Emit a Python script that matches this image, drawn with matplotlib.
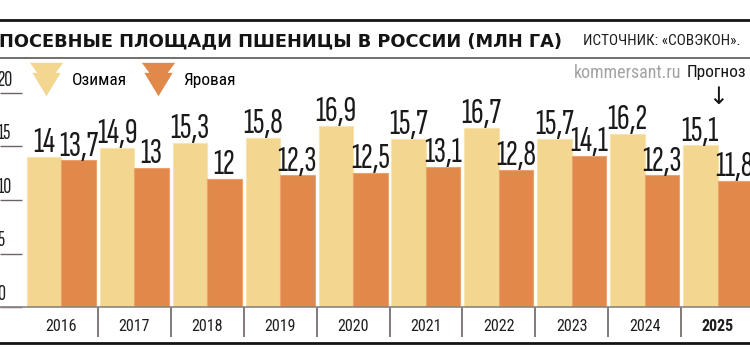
import matplotlib
matplotlib.use("Agg")
import matplotlib.pyplot as plt
import numpy as np
from matplotlib.lines import Line2D
from matplotlib.path import Path


# ==========================================================
#                      DONNEES
# ==========================================================
years = ["2016", "2017", "2018", "2019", "2020", "2021", "2022", "2023", "2024", "2025"]
ozimaya = [14, 14.9, 15.3, 15.8, 16.9, 15.7, 16.7, 15.7, 16.2, 15.1]
yarovaya = [13.7, 13, 12, 12.3, 12.5, 13.1, 12.8, 14.1, 12.3, 11.8]
y_ticks = [0, 5, 10, 15, 20]
series_names = ["Озимая", "Яровая"]

title = "ПОСЕВНЫЕ ПЛОЩАДИ ПШЕНИЦЫ В РОССИИ (МЛН ГА)"
source = "ИСТОЧНИК: «СОВЭКОН»."

C_OZ = "#F3D68F"
C_YAR = "#E0894A"
# polices etroites (repli sur DejaVu si absentes)
TALL = ["Sofia Sans Extra Condensed", "Fira Sans Extra Condensed", "Roboto Condensed", "DejaVu Sans"]
NARROW = ["Roboto Condensed", "PT Sans Narrow", "Liberation Sans", "DejaVu Sans"]

W, H = 750, 364


def fx(px):
    return px / W


def fy(py):
    return 1 - py / H


fig = plt.figure(figsize=(W / 100, H / 100), dpi=100)
fig.patch.set_facecolor("white")

# axe principal : y=0 a 307 px, y=20 a 93 px, groupes de ~73 px
ax = fig.add_axes([fx(25), fy(307), fx(725), (307 - 93) / H])
ax.set_facecolor("none")
group_px = 72.9
ax.set_xlim(-0.5, -0.5 + 725 / group_px)
ax.set_ylim(0, 20)

x = np.arange(len(years))
bw = 0.473
b1 = ax.bar(x - bw / 2, ozimaya, bw, color=C_OZ, edgecolor="#F8E4AE", linewidth=0.8)
b2 = ax.bar(x + bw / 2, yarovaya, bw, color=C_YAR, edgecolor="#EDA16C", linewidth=0.8)

# valeurs au-dessus des barres
for bars, vals in [(b1, ozimaya), (b2, yarovaya)]:
    for rect, v in zip(bars, vals):
        ax.annotate(f"{v:g}".replace(".", ","),
                    (rect.get_x() + rect.get_width() / 2, rect.get_height()),
                    xytext=(0, 3.5), textcoords="offset points",
                    ha="center", va="baseline", fontsize=25.5,
                    family=TALL, color="#1a1a1a", clip_on=False)

for s in ax.spines.values():
    s.set_visible(False)
ax.set_yticks([])

# annees
ax.set_xticks(x, years)
ax.tick_params(axis="x", length=0, pad=8.5, labelsize=11.5)
for lab in ax.get_xticklabels():
    lab.set_family(NARROW)
    lab.set_color("#1e1e1e")
ax.get_xticklabels()[-1].set_fontweight("bold")

# separateurs entre les annees
ax.vlines(x[:-1] + 0.5, 0, -30 / 214, transform=ax.get_xaxis_transform(),
          color="#6b6461", lw=1.2, clip_on=False)

# petites lignes de l'axe Y + graduations
ax.hlines(y_ticks, -25 / 725, -3 / 725, transform=ax.get_yaxis_transform(),
          color="#6b6461", lw=1, clip_on=False)
for t in y_ticks:
    ax.annotate(str(t), (-28 / 725, t), xycoords=ax.get_yaxis_transform(),
                xytext=(0, 2.5), textcoords="offset points",
                ha="left", va="bottom", fontsize=16, family=TALL,
                color="#1e1e1e", annotation_clip=False)

# ==========================================================
#                  LIGNES ET TEXTES
# ==========================================================
fig.add_artist(Line2D([0, 1], [fy(19.5), fy(19.5)], color="#141414", lw=2))
fig.add_artist(Line2D([0, 1], [fy(58), fy(58)], color="#5a5552", lw=1.2))
fig.add_artist(Line2D([0, 1], [fy(307), fy(307)], color="#8a8583", lw=1.2))
fig.add_artist(Line2D([0, 1], [fy(342.5), fy(342.5)], color="#141414", lw=2))

fig.text(fx(-1), fy(41), title, fontsize=12.8, fontweight="bold",
         family="DejaVu Sans", color="#141414", va="center", ha="left")
fig.text(fx(583), fy(41), source, fontsize=11, family=NARROW,
         color="#1e1e1e", va="center", ha="left")
fig.text(fx(574), fy(73), "kommersant.ru", fontsize=13, family=NARROW,
         color="#a3a3a3", va="center", ha="left")
fig.text(fx(687), fy(73), "Прогноз", fontsize=12.5, family=NARROW,
         color="#141414", va="center", ha="left")
fig.text(fx(718), fy(97), "↓", fontsize=17, family="DejaVu Sans",
         color="#141414", va="center", ha="center")

# ==========================================================
#                      LEGENDE
# ==========================================================
marker = Path([(-1, 1), (1, 1), (0.55, 0.4), (0.85, 0.4), (0, -1),
               (-0.85, 0.4), (-0.55, 0.4), (-1, 1)])
handles = [Line2D([], [], ls="none", marker=marker, markersize=24,
                  markerfacecolor=c, markeredgewidth=0)
           for c in (C_OZ, C_YAR)]
ax.legend(handles, series_names, loc="center left",
          bbox_to_anchor=(fx(29), fy(80)), bbox_transform=fig.transFigure,
          ncol=2, frameon=False, borderpad=0, borderaxespad=0,
          handlelength=2.0, handletextpad=0.45, columnspacing=0.8,
          prop={"family": NARROW, "size": 12.5})

fig.savefig("out.png", dpi=100)
